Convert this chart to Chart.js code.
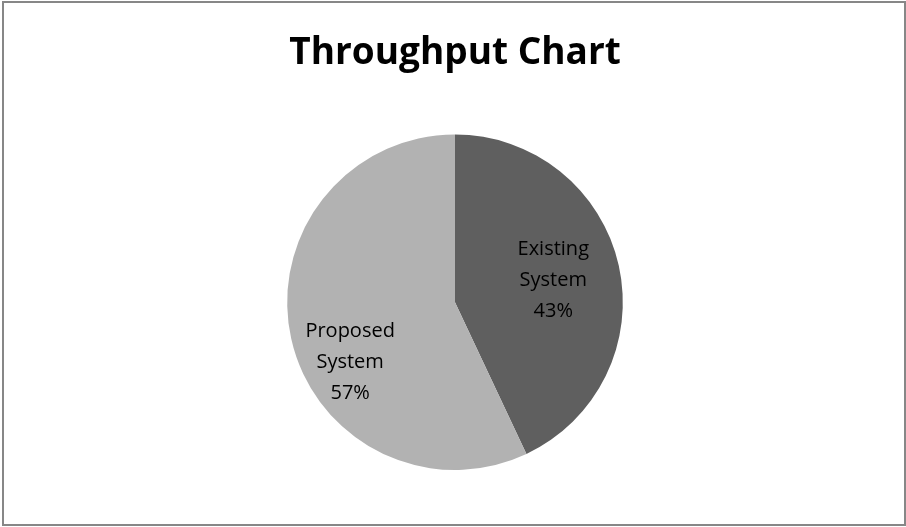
<!DOCTYPE html>
<html>
<head>
<meta charset="utf-8">
<title>Throughput Chart</title>
<script src="https://cdn.jsdelivr.net/npm/chart.js"></script>
<style>
  html, body { margin: 0; padding: 0; background: #fff; }
  #wrap { position: relative; width: 906px; height: 527px; }
</style>
</head>
<body>
<div id="wrap"><canvas id="chart"></canvas></div>
<script>
// Throughput share per system
const categories = ["Existing System", "Proposed System"];
const shares = [43, 57];
const sliceColors = ["#5f5f5f", "#b2b2b2"];

// thin grey frame round the whole chart
const framePlugin = {
  id: "frame",
  beforeDraw(chart) {
    const ctx = chart.ctx;
    ctx.save();
    ctx.fillStyle = "#fff";
    ctx.fillRect(0, 0, chart.width, chart.height);
    ctx.strokeStyle = "#878787";
    ctx.lineWidth = 2;
    ctx.strokeRect(3, 2, chart.width - 4, chart.height - 4);
    ctx.restore();
  }
};

// category name + percent written inside each slice
const sliceLabels = {
  id: "sliceLabels",
  afterDatasetsDraw(chart) {
    const ctx = chart.ctx;
    const meta = chart.getDatasetMeta(0);
    const total = shares.reduce((a, b) => a + b, 0);
    ctx.save();
    ctx.fillStyle = "#000";
    ctx.font = "20px 'Open Sans', sans-serif";
    ctx.textAlign = "center";
    ctx.textBaseline = "middle";
    meta.data.forEach((arc, i) => {
      const mid = (arc.startAngle + arc.endAngle) / 2;
      // Excel's best-fit pushes the larger slice's label lower
      const r = arc.outerRadius * (i === 0 ? 0.6 : 0.72);
      const a = i === 0 ? mid : mid - 0.3;
      const x = arc.x + Math.cos(a) * r;
      const y = arc.y + Math.sin(a) * r;
      const words = categories[i].split(" ");
      const lines = [...words, Math.round(shares[i] / total * 100) + "%"];
      const lh = 31;
      lines.forEach((t, k) => {
        ctx.fillText(t, x, y + (k - (lines.length - 1) / 2) * lh);
      });
    });
    ctx.restore();
  }
};

new Chart(document.getElementById("chart"), {
  type: "pie",
  data: {
    labels: categories,
    datasets: [{
      data: shares,
      backgroundColor: sliceColors,
      borderWidth: 0
    }]
  },
  options: {
    responsive: true,
    maintainAspectRatio: false,
    animation: false,
    layout: { padding: { left: 4, right: 0, top: 0, bottom: 57 } },
    plugins: {
      legend: { display: false },
      tooltip: { enabled: false },
      title: {
        display: true,
        text: "Throughput Chart",
        color: "#000",
        font: { family: "'Open Sans', sans-serif", size: 37, weight: "bold" },
        padding: { top: 31, bottom: 59 }
      }
    }
  },
  plugins: [framePlugin, sliceLabels]
});
</script>
</body>
</html>
